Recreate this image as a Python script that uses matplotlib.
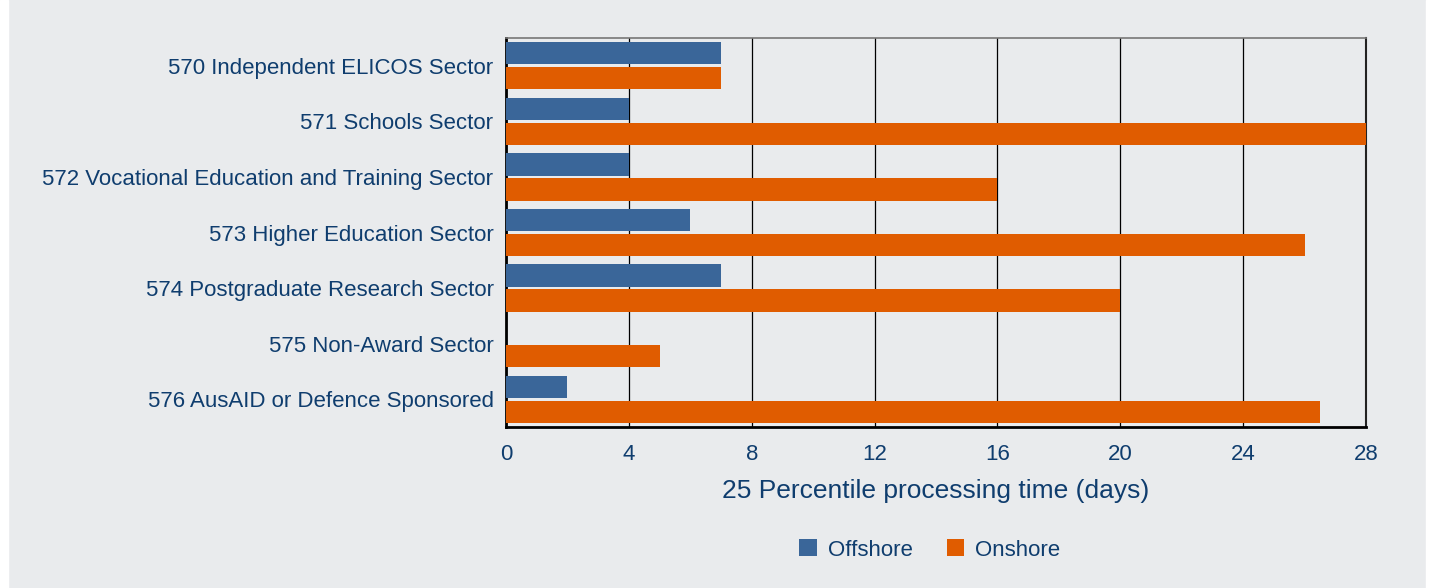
import matplotlib.pyplot as plt
from matplotlib.patches import Rectangle
import numpy as np

plt.rcParams['font.family'] = ['Liberation Sans', 'DejaVu Sans']

categories = [
    "570 Independent ELICOS Sector",
    "571 Schools Sector",
    "572 Vocational Education and Training Sector",
    "573 Higher Education Sector",
    "574 Postgraduate Research Sector",
    "575 Non-Award Sector",
    "576 AusAID or Defence Sponsored",
]
offshore = [7, 4, 4, 6, 7, 0, 2]
onshore = [7, 28, 16, 26, 20, 5, 26.5]
xticks = [0, 4, 8, 12, 16, 20, 24, 28]

BG = "#e9ebed"
BLUE = "#3a6699"
ORANGE = "#e05c00"
TXT = "#0f3d6e"

fig = plt.figure(figsize=(14.3, 5.88), dpi=100, facecolor=BG)
# thin white edges like the reference
for x0, w in [(0, 8 / 1430), (1426 / 1430, 4 / 1430)]:
    fig.patches.append(Rectangle((x0, 0), w, 1, transform=fig.transFigure,
                                 color="white", zorder=0))
ax = fig.add_axes([506 / 1430, 1 - 427 / 588, 860 / 1430, 389 / 588])
ax.set_facecolor(BG)

y = np.arange(len(categories))
h = 0.4
ax.barh(y - 0.225, offshore, height=h, color=BLUE, label="Offshore", zorder=3)
ax.barh(y + 0.225, onshore, height=h, color=ORANGE, label="Onshore", zorder=3)

ax.set_xlim(0, 28)
ax.set_ylim(len(categories) - 0.5, -0.5)
ax.set_xticks(xticks)
ax.set_yticks(y)
ax.set_yticklabels(categories)
ax.tick_params(axis="both", length=0, labelsize=16, colors=TXT)
ax.tick_params(axis="x", pad=12)
ax.tick_params(axis="y", pad=9)
ax.grid(axis="x", color="black", linewidth=0.9, zorder=1)

ax.spines["left"].set_linewidth(2)
ax.spines["bottom"].set_linewidth(2)
ax.spines["top"].set_color("#777777")
ax.spines["top"].set_linewidth(1.2)
ax.spines["right"].set_color("#222222")
ax.spines["right"].set_linewidth(1.5)

ax.set_xlabel("25 Percentile processing time (days)", fontsize=19, color=TXT, labelpad=10)

leg = fig.legend(loc="center", bbox_to_anchor=(930 / 1430, 1 - 550 / 588), ncol=2,
                 frameon=False, fontsize=16, handlelength=0.8, handleheight=0.8,
                 handletextpad=0.5, columnspacing=1.5)
for t in leg.get_texts():
    t.set_color(TXT)

fig.savefig("out.png", dpi=100, facecolor=fig.get_facecolor())
